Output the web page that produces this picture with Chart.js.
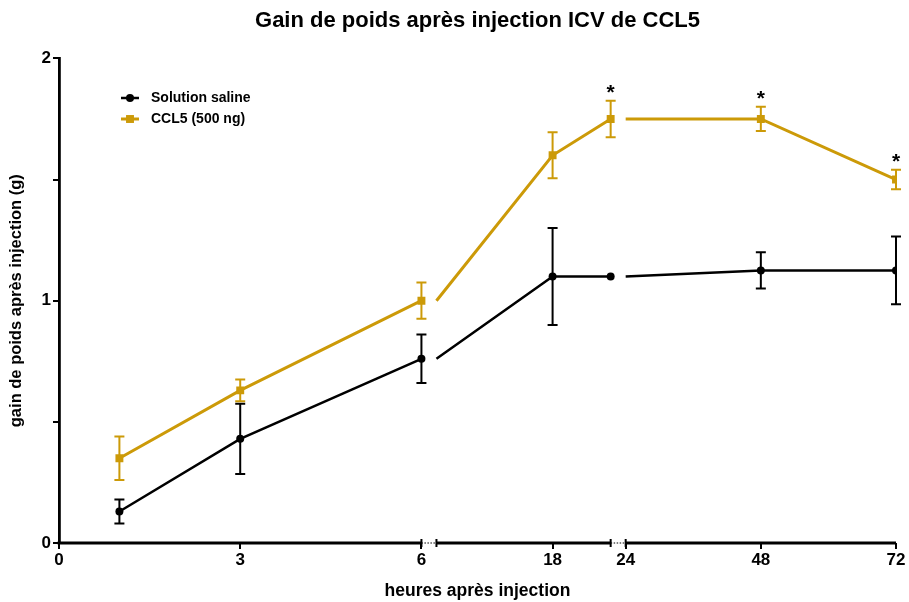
<!DOCTYPE html>
<html>
<head>
<meta charset="utf-8">
<script src="https://cdn.jsdelivr.net/npm/chart.js@4.4.1/dist/chart.umd.min.js"></script>
<style>
  html, body { margin: 0; padding: 0; background: #fff; }
</style>
</head>
<body>
<canvas id="myChart" width="909" height="602"></canvas>
<script>
// valeurs (heures après injection)
const heures = [1, 3, 6, 18, 24, 48, 72];
const saline = [0.13, 0.43, 0.76, 1.10, 1.10, 1.125, 1.125];
const salineErr = [0.05, 0.145, 0.10, 0.20, 0, 0.075, 0.14];
const ccl5 = [0.35, 0.63, 1.00, 1.60, 1.75, 1.75, 1.50];
const ccl5Err = [0.09, 0.045, 0.075, 0.095, 0.075, 0.05, 0.04];
const heuresSignif = [24, 48, 72];
const ticksX = [0, 3, 6, 18, 24, 48, 72];
const ticksY = [0, 0.5, 1, 1.5, 2];
const labelsY = ["0", "", "1", "", "2"];

const NOIR = '#000000';
const OR = '#CC9A08';
const POLICE = "'Liberation Sans', Arial, sans-serif";

// axe x coupé en 3 morceaux (positions en px depuis l'axe y)
const segments = [
    {de: 0, a: 6, debut: 0, fin: 362},
    {de: 6, a: 24, debut: 377, fin: 551},
    {de: 24, a: 72, debut: 566, fin: 836}
];
const segTicks = [0, 0, 0, 1, 2, 2, 2];

const posX = (h, s) => s.debut + (h - s.de) * (s.fin - s.debut) / (s.a - s.de);
const segDe = (h) => segments.find((s, k) => (h > s.de || k == 0) && h <= s.a);

//! construit les points avec un trou entre chaque morceau
const construirePoints = (valeurs) => {
    let pts = [];
    segments.forEach((s, k) => {
        if (k > 0) {
            pts.push({x: (segments[k - 1].fin + s.debut) / 2, y: null});
            const j = heures.indexOf(s.de);
            if (j >= 0) pts.push({x: s.debut, y: valeurs[j], marqueur: false});
        }
        heures.forEach((h, i) => {
            if ((h > s.de || k == 0) && h <= s.a) {
                pts.push({x: posX(h, s), y: valeurs[i], marqueur: true, i: i});
            }
        });
    });
    return pts;
}

const decor = {
    id: 'decor',
    beforeDatasetsDraw(chart) {
        const ctx = chart.ctx;
        const sx = chart.scales.x;
        const sy = chart.scales.y;
        const yb = chart.chartArea.bottom;
        ctx.save();
        // axe x en morceaux
        ctx.strokeStyle = NOIR;
        ctx.lineWidth = 2.8;
        segments.forEach((s, k) => {
            ctx.beginPath();
            ctx.moveTo(sx.getPixelForValue(s.debut) - (k == 0 ? 1.4 : 0), yb);
            ctx.lineTo(sx.getPixelForValue(s.fin), yb);
            ctx.stroke();
        });
        // pointillés + marques de coupure
        for (let k = 1; k < segments.length; k++) {
            const x1 = sx.getPixelForValue(segments[k - 1].fin);
            const x2 = sx.getPixelForValue(segments[k].debut);
            ctx.lineWidth = 1;
            ctx.setLineDash([1.5, 1.5]);
            ctx.beginPath();
            ctx.moveTo(x1, yb);
            ctx.lineTo(x2, yb);
            ctx.stroke();
            ctx.setLineDash([]);
            ctx.lineWidth = 2;
            [x1, x2].forEach(x => {
                ctx.beginPath();
                ctx.moveTo(x, yb - 4);
                ctx.lineTo(x, yb + 4);
                ctx.stroke();
            });
        }
        // barres d'erreur
        chart.data.datasets.forEach((ds) => {
            ctx.strokeStyle = ds.borderColor;
            ctx.lineWidth = 2;
            ds.data.forEach(p => {
                if (!p.marqueur) return;
                const e = ds.erreurs[p.i];
                if (!e) return;
                const x = sx.getPixelForValue(p.x);
                const yh = sy.getPixelForValue(p.y + e);
                const yl = sy.getPixelForValue(p.y - e);
                ctx.beginPath();
                ctx.moveTo(x, yh); ctx.lineTo(x, yl);
                ctx.moveTo(x - 5, yh); ctx.lineTo(x + 5, yh);
                ctx.moveTo(x - 5, yl); ctx.lineTo(x + 5, yl);
                ctx.stroke();
            });
        });
        ctx.restore();
    },
    afterDatasetsDraw(chart) {
        const ctx = chart.ctx;
        const sx = chart.scales.x;
        const sy = chart.scales.y;
        ctx.save();
        // étoiles de significativité
        ctx.fillStyle = NOIR;
        ctx.font = "bold 21px " + POLICE;
        ctx.textAlign = 'center';
        ctx.textBaseline = 'alphabetic';
        heuresSignif.forEach(h => {
            const i = heures.indexOf(h);
            const x = sx.getPixelForValue(posX(h, segDe(h)));
            const y = sy.getPixelForValue(ccl5[i] + ccl5Err[i]) - 13;
            ctx.fillText('*', x, y + 11);
        });
        // légende
        const lignes = [
            {texte: 'Solution saline', couleur: NOIR, larg: 2.5, style: 'circle', r: 4, y: 98},
            {texte: 'CCL5 (500 ng)', couleur: OR, larg: 3, style: 'rect', r: 5.6, y: 119}
        ];
        lignes.forEach(l => {
            ctx.strokeStyle = l.couleur;
            ctx.fillStyle = l.couleur;
            ctx.lineWidth = l.larg;
            ctx.beginPath();
            ctx.moveTo(121, l.y);
            ctx.lineTo(139, l.y);
            ctx.stroke();
            Chart.helpers.drawPoint(ctx, {pointStyle: l.style, radius: l.r, borderWidth: 0}, 130, l.y);
            ctx.fillStyle = NOIR;
            ctx.font = "bold 14px " + POLICE;
            ctx.textAlign = 'left';
            ctx.textBaseline = 'middle';
            ctx.fillText(l.texte, 151, l.y);
        });
        ctx.restore();
    }
};

const rayon = (r) => (ctx) => (ctx.raw && ctx.raw.marqueur ? r : 0);

const chartDOM = document.getElementById("myChart");
const myChart = new Chart(chartDOM, {
    type: 'line',
    data: {
        datasets: [
            {
                label: 'Solution saline',
                data: construirePoints(saline),
                erreurs: salineErr,
                borderColor: NOIR,
                backgroundColor: NOIR,
                borderWidth: 2.5,
                pointStyle: 'circle',
                pointRadius: rayon(4),
                pointBorderWidth: 0,
                spanGaps: false,
                tension: 0
            },
            {
                label: 'CCL5 (500 ng)',
                data: construirePoints(ccl5),
                erreurs: ccl5Err,
                borderColor: OR,
                backgroundColor: OR,
                borderWidth: 3,
                pointStyle: 'rect',
                pointRadius: rayon(5.6),
                pointBorderWidth: 0,
                spanGaps: false,
                tension: 0
            }
        ]
    },
    options: {
        responsive: false,
        animation: false,
        layout: {padding: {left: 0, right: 13, top: 0, bottom: 0}},
        plugins: {
            legend: {display: false},
            tooltip: {enabled: false},
            title: {
                display: true,
                text: 'Gain de poids après injection ICV de CCL5',
                fullSize: false,
                color: NOIR,
                font: {family: POLICE, size: 22, weight: 'bold'},
                padding: {top: 8, bottom: 24}
            }
        },
        scales: {
            x: {
                type: 'linear',
                min: 0,
                max: 836,
                afterBuildTicks: (s) => {
                    s.ticks = ticksX.map((h, i) => ({value: posX(h, segments[segTicks[i]])}));
                },
                afterFit: (s) => { s.height = 59; },
                ticks: {
                    autoSkip: false,
                    maxRotation: 0,
                    padding: 1,
                    color: NOIR,
                    font: {family: POLICE, size: 17, weight: 'bold'},
                    callback: (v, i) => String(ticksX[i])
                },
                grid: {drawOnChartArea: false, drawTicks: true, tickLength: 6, color: NOIR, lineWidth: 2},
                border: {display: false},
                title: {
                    display: true,
                    text: 'heures après injection',
                    color: NOIR,
                    font: {family: POLICE, size: 17.5, weight: 'bold'},
                    padding: 0
                }
            },
            y: {
                min: 0,
                max: 2,
                afterBuildTicks: (s) => {
                    s.ticks = ticksY.map(v => ({value: v}));
                },
                afterFit: (s) => { s.width = 59; },
                ticks: {
                    padding: 2,
                    color: NOIR,
                    font: {family: POLICE, size: 17, weight: 'bold'},
                    callback: (v, i) => labelsY[i]
                },
                grid: {drawOnChartArea: false, drawTicks: true, tickLength: 6, color: NOIR, lineWidth: 2},
                border: {display: true, color: NOIR, width: 2.8},
                title: {
                    display: true,
                    text: 'gain de poids après injection (g)',
                    color: NOIR,
                    font: {family: POLICE, size: 16.5, weight: 'bold'},
                    padding: {top: 7, bottom: 0}
                }
            }
        }
    },
    plugins: [decor]
});
</script>
</body>
</html>
